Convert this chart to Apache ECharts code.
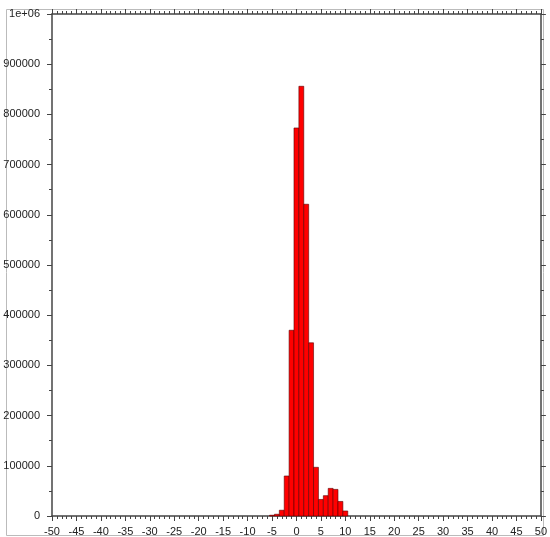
<!DOCTYPE html>
<html>
<head>
<meta charset="utf-8">
<script src="https://cdn.jsdelivr.net/npm/echarts@6/dist/echarts.min.js"></script>
<style>html,body{margin:0;padding:0;background:#fff}#c{width:550px;height:537px}</style>
</head>
<body>
<div id="c"></div>
<script>
// Histogram bins: centers and counts
var binCenters = [-5, -4, -3, -2, -1, 0, 1, 2, 3, 4, 5, 6, 7, 8, 9, 10];
var binCounts  = [1500, 3500, 11500, 79700, 370000, 773000, 856000, 621000, 345000, 97000, 33000, 40500, 55000, 53000, 29000, 10000];
var binWidth = 1;
var xTickLabels = ['-50','-45','-40','-35','-30','-25','-20','-15','-10','-5','0','5','10','15','20','25','30','35','40','45','50'];
var yTickLabels = ['0','100000','200000','300000','400000','500000','600000','700000','800000','900000','1e+06'];

var data = binCenters.map(function (c, i) { return [c, binCounts[i]]; });
var font = { fontFamily: 'Liberation Sans', fontSize: 11, color: '#222' };
var lineC = '#444';

function xAxisCfg(pos, show) {
  return {
    type: 'value', position: pos, min: -50, max: 50, interval: 5,
    axisLine: { show: true, onZero: false, lineStyle: { color: lineC, width: 1.5 } },
    axisTick: { show: true, inside: false, length: 5, lineStyle: { color: lineC } },
    minorTick: { show: true, splitNumber: 5, length: 3, lineStyle: { color: lineC } },
    splitLine: { show: false },
    axisLabel: Object.assign({ show: show, margin: 10, formatter: function (v) { return xTickLabels[Math.round((v + 50) / 5)]; } }, font)
  };
}
function yAxisCfg(pos, show) {
  return {
    type: 'value', position: pos, min: 0, max: 1000000, interval: 100000,
    axisLine: { show: true, onZero: false, lineStyle: { color: lineC, width: 1.5 } },
    axisTick: { show: true, inside: false, length: 5, lineStyle: { color: lineC } },
    minorTick: { show: true, splitNumber: 2, length: 3, lineStyle: { color: lineC } },
    splitLine: { show: false },
    axisLabel: Object.assign({ show: show, margin: 12, formatter: function (v) { return yTickLabels[Math.round(v / 100000)]; } }, font)
  };
}

var chart = echarts.init(document.getElementById('c'), null, { renderer: 'canvas' });
chart.setOption({
  animation: false,
  backgroundColor: '#fff',
  grid: { left: 52, right: 7, top: 14, bottom: 21 },
  xAxis: [xAxisCfg('bottom', true), xAxisCfg('top', false)],
  yAxis: [yAxisCfg('left', true), yAxisCfg('right', false)],
  graphic: [{
    type: 'rect', silent: true, z: -1,
    shape: { x: 6.5, y: 9.5, width: 537, height: 526 },
    style: { fill: 'none', stroke: '#bbb', lineWidth: 1 }
  }],
  series: [{
    type: 'custom',
    xAxisIndex: 0, yAxisIndex: 0,
    data: data,
    renderItem: function (params, api) {
      var c = api.value(0), v = api.value(1);
      var p1 = api.coord([c - binWidth / 2, v]);
      var p2 = api.coord([c + binWidth / 2, 0]);
      return {
        type: 'rect',
        shape: { x: p1[0], y: p1[1], width: p2[0] - p1[0], height: p2[1] - p1[1] },
        style: { fill: '#ff0000', stroke: '#5a0000', lineWidth: 0.6 }
      };
    }
  }]
});
</script>
</body>
</html>
